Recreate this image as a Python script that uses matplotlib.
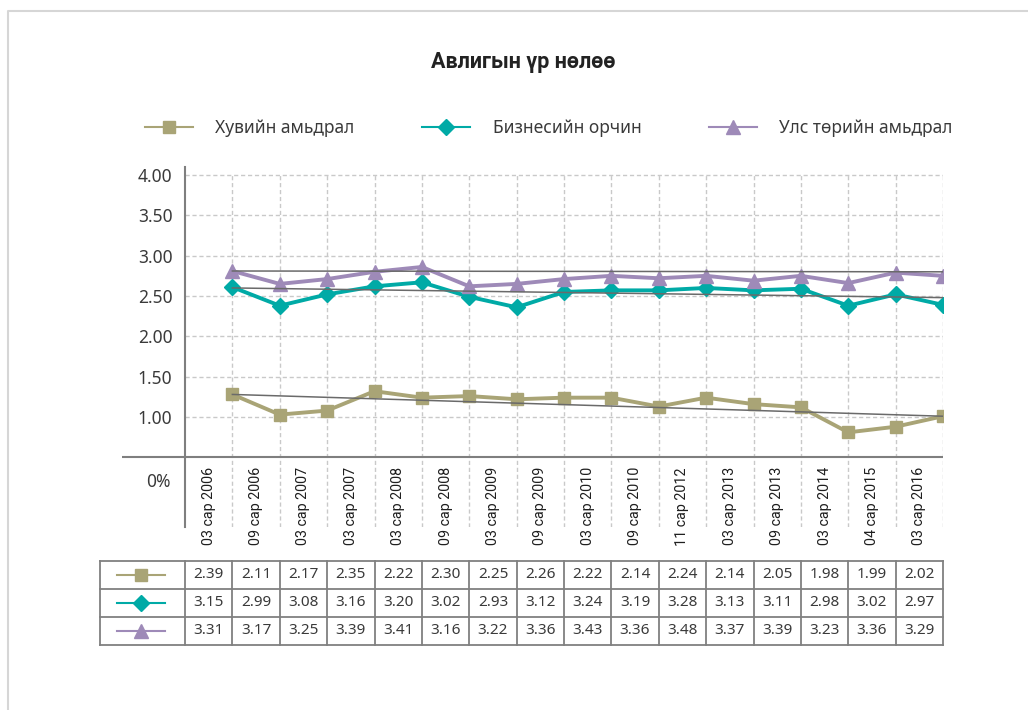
import numpy as np
import matplotlib.pyplot as plt
from matplotlib.lines import Line2D
from matplotlib.transforms import blended_transform_factory

plt.rcParams['font.family'] = ['Noto Sans', 'DejaVu Sans']

# categories (survey rounds)
periods = ['03 сар 2006', '09 сар 2006', '03 сар 2007', '03 сар 2007', '03 сар 2008',
           '09 сар 2008', '03 сар 2009', '09 сар 2009', '03 сар 2010', '09 сар 2010',
           '11 сар 2012', '03 сар 2013', '09 сар 2013', '03 сар 2014', '04 сар 2015',
           '03 сар 2016']
series_names = ['Хувийн амьдрал', 'Бизнесийн орчин', 'Улс төрийн амьдрал']

# values as plotted on the chart
private_plot = [1.28, 1.03, 1.08, 1.32, 1.24, 1.26, 1.22, 1.24, 1.24, 1.13, 1.24, 1.16, 1.12, 0.81, 0.88, 1.01]
business_plot = [2.61, 2.38, 2.52, 2.62, 2.67, 2.49, 2.36, 2.55, 2.57, 2.57, 2.60, 2.57, 2.59, 2.38, 2.52, 2.39]
politics_plot = [2.81, 2.65, 2.71, 2.80, 2.86, 2.62, 2.65, 2.71, 2.75, 2.72, 2.75, 2.69, 2.75, 2.66, 2.79, 2.75]

# trend line start / end values (first and last round)
trend_start = [1.28, 2.60, 2.81]
trend_end = [1.01, 2.48, 2.80]

# values printed in the data table
private_table = [2.39, 2.11, 2.17, 2.35, 2.22, 2.30, 2.25, 2.26, 2.22, 2.14, 2.24, 2.14, 2.05, 1.98, 1.99, 2.02]
business_table = [3.15, 2.99, 3.08, 3.16, 3.20, 3.02, 2.93, 3.12, 3.24, 3.19, 3.28, 3.13, 3.11, 2.98, 3.02, 2.97]
politics_table = [3.31, 3.17, 3.25, 3.39, 3.41, 3.16, 3.22, 3.36, 3.43, 3.36, 3.48, 3.37, 3.39, 3.23, 3.36, 3.29]

y_ticks = [1.0, 1.5, 2.0, 2.5, 3.0, 3.5, 4.0]

colors = ['#A9A476', '#00AAA6', '#9E8AB8']
markers = ['s', 'D', '^']
msizes = [9, 8, 10]
grid_c = '#c9c9c9'
axis_c = '#7f7f7f'
text_c = '#3a3a3a'
narrow = ['Roboto', 'DejaVu Sans']

W, H = 1028, 710
fig = plt.figure(figsize=(W / 100, H / 100), dpi=100)


def px(x, y):
    return x / W, 1 - y / H


# light frame around the chart
fig.add_artist(Line2D([8 / W, 8 / W, 1], [0, 1 - 11 / H, 1 - 11 / H],
                      color='#d6d6d6', lw=1.5, transform=fig.transFigure))

ax = fig.add_axes([185 / W, 1 - 527 / H, (943 - 185) / W, (527 - 167) / H])
ax.set_xlim(0, 16)
ax.set_ylim(-0.363, 4.099)
for s in ['top', 'right', 'bottom']:
    ax.spines[s].set_visible(False)
ax.spines['left'].set_color(axis_c)
ax.spines['left'].set_linewidth(1.5)
ax.set_xticks([])
ax.set_yticks(y_ticks)
ax.set_yticklabels([f'{v:.2f}' for v in y_ticks], fontsize=12.5, color=text_c)
ax.tick_params(axis='y', length=0, pad=9)

xs = np.arange(1, len(periods) + 1)

# dashed grid
ax.hlines(y_ticks, 0, 16, colors=grid_c, linestyles=(0, (3, 2)), lw=1, zorder=0)
ax.vlines(xs, -0.363, 4.0, colors=grid_c, linestyles=(0, (3, 2)), lw=1, zorder=0)
ax.hlines(0.5, -(185 - 122) / 47.375, 16, colors=axis_c, lw=1.5, clip_on=False, zorder=1)

series = [private_plot, business_plot, politics_plot]
for vals, c, m, ms, t0, t1 in zip(series, colors, markers, msizes, trend_start, trend_end):
    ax.plot(xs, vals, color=c, lw=2.8, marker=m, markersize=ms, zorder=3)
    ax.plot(xs[[0, -1]], [t0, t1], color='#6a6a6a', lw=1.1, zorder=4)

tr = blended_transform_factory(ax.transData, fig.transFigure)

# category labels between grid lines
for i, lab in enumerate(periods):
    ax.text(i + 0.5, 1 - 467 / H, lab, transform=tr, rotation=90, ha='center', va='top',
            fontsize=10.3, color='#1e1e1e', family=narrow)

fig.text(*px(171, 482), '0%', ha='right', va='center', fontsize=12.5, color=text_c)

# data table
row_edges = [561, 589, 617, 645]
x_left = -(185 - 100) / 47.375
tc = '#808080'
for ry in row_edges:
    ax.plot([x_left, 16], [1 - ry / H] * 2, transform=tr, color=tc, lw=1.3, clip_on=False)
for cx in [x_left] + list(range(0, 17)):
    ax.plot([cx, cx], [1 - row_edges[0] / H, 1 - row_edges[-1] / H], transform=tr,
            color=tc, lw=1.3, clip_on=False)
table_rows = [private_table, business_table, politics_table]
for r, (vals, c, m, ms) in enumerate(zip(table_rows, colors, markers, msizes)):
    yc = 1 - (row_edges[r] + row_edges[r + 1]) / 2 / H
    for i, v in enumerate(vals):
        ax.text(i + 0.5, yc, f'{v:.2f}', transform=tr, ha='center', va='center',
                fontsize=11, color=text_c)
    ax.plot([(117 - 185) / 47.375, (165 - 185) / 47.375], [yc, yc], transform=tr,
            color=c, lw=1.5, clip_on=False)
    ax.plot([(141 - 185) / 47.375], [yc], transform=tr, color=c, marker=m,
            markersize=ms, clip_on=False)

# legend
leg_handles = [Line2D([], [], color=c, lw=1.5, marker=m, markersize=ms)
               for c, m, ms in zip(colors, markers, msizes)]
fig.legend(leg_handles, series_names, loc='center', bbox_to_anchor=px(549, 128), ncol=3,
           frameon=False, fontsize=12.5, handlelength=2.75, handletextpad=1.3,
           columnspacing=3.9, labelcolor=text_c)

fig.text(*px(523, 62), 'Авлигын үр нөлөө', ha='center', va='center', fontsize=15.5,
         fontweight='bold', color='#222222', family=['Roboto', 'DejaVu Sans'])

fig.savefig('out.png', dpi=100, facecolor='white')
